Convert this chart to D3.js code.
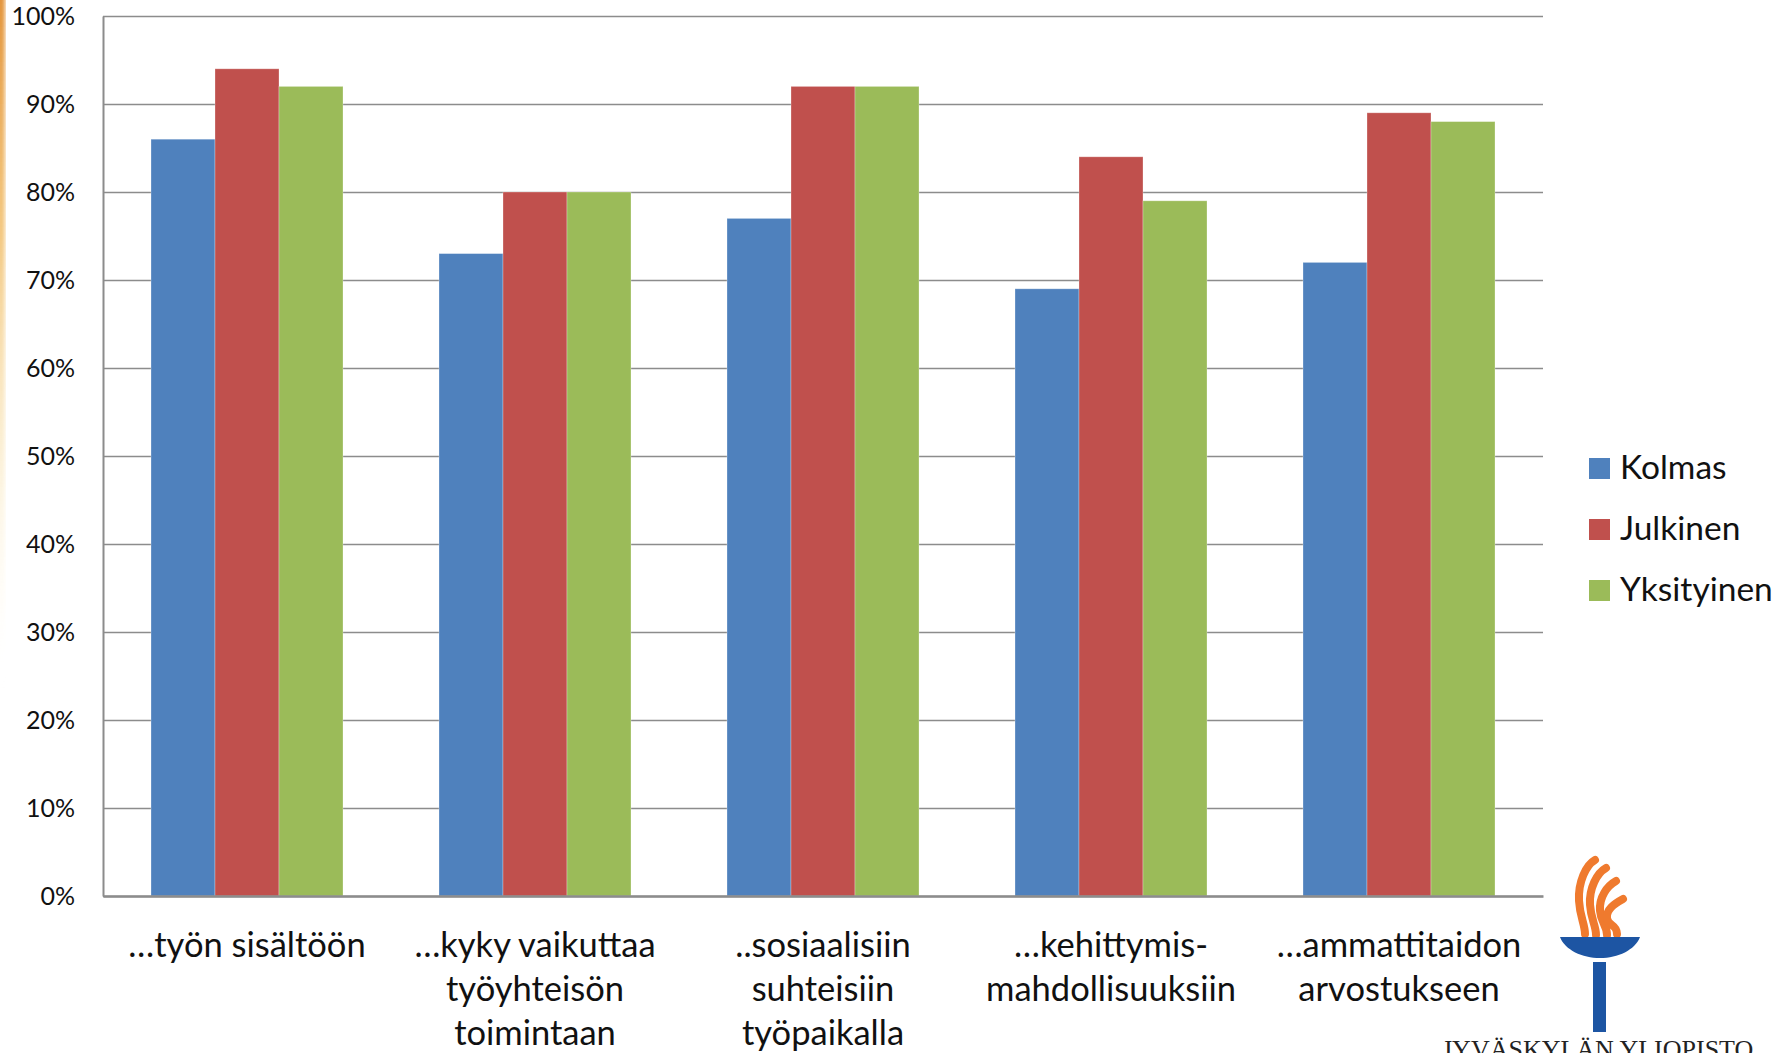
<!DOCTYPE html>
<html>
<head>
<meta charset="utf-8">
<script src="https://cdn.jsdelivr.net/npm/d3@7"></script>
<style>
  html, body { margin: 0; padding: 0; background: #ffffff; }
  svg { display: block; }
</style>
</head>
<body>
<script>
// Categories (each label split into its display lines)
const categories = ["tyon", "kyky", "sosiaalisiin", "kehittymis", "ammattitaidon"];
const categoryLines = [
  ["…työn sisältöön"],
  ["…kyky vaikuttaa", "työyhteisön", "toimintaan"],
  ["..sosiaalisiin", "suhteisiin", "työpaikalla"],
  ["…kehittymis-", "mahdollisuuksiin"],
  ["…ammattitaidon", "arvostukseen"]
];

// Series
const seriesNames = ["Kolmas", "Julkinen", "Yksityinen"];
const kolmas     = [0.86, 0.73, 0.77, 0.69, 0.72];
const julkinen   = [0.94, 0.80, 0.92, 0.84, 0.89];
const yksityinen = [0.92, 0.80, 0.92, 0.79, 0.88];
const seriesColors = ["#4f81bd", "#c0504d", "#9bbb59"];

// Y axis ticks
const yTicks = [0, 0.1, 0.2, 0.3, 0.4, 0.5, 0.6, 0.7, 0.8, 0.9, 1.0];

const W = 1779, H = 1053;
const plot = { left: 103, right: 1543, top: 16, bottom: 896 };
const FONT = "Lato, 'Open Sans', sans-serif";

const svg = d3.select("body").append("svg")
  .attr("width", W).attr("height", H)
  .attr("viewBox", `0 0 ${W} ${H}`);

// Warm slide edge on the far left
const defs = svg.append("defs");
const edgeGrad = defs.append("linearGradient")
  .attr("id", "edgeGrad").attr("x1", 0).attr("y1", 0).attr("x2", 0).attr("y2", 1);
edgeGrad.append("stop").attr("offset", "0%").attr("stop-color", "#e08a2a").attr("stop-opacity", 0.95);
edgeGrad.append("stop").attr("offset", "35%").attr("stop-color", "#eeb04a").attr("stop-opacity", 0.7);
edgeGrad.append("stop").attr("offset", "70%").attr("stop-color", "#f3cf7a").attr("stop-opacity", 0.25);
edgeGrad.append("stop").attr("offset", "100%").attr("stop-color", "#ffffff").attr("stop-opacity", 0);
defs.append("filter").attr("id", "edgeBlur")
  .append("feGaussianBlur").attr("stdDeviation", 2);
svg.append("rect")
  .attr("x", -4).attr("y", -10).attr("width", 9).attr("height", 700)
  .attr("fill", "url(#edgeGrad)").attr("filter", "url(#edgeBlur)");

// Scales
const x0 = d3.scaleBand().domain(categories).range([plot.left, plot.right]).padding(0);
const x1 = d3.scaleBand().domain(seriesNames).range([0, x0.bandwidth()])
  .paddingInner(0).paddingOuter(0.75);
const y = d3.scaleLinear().domain([0, 1]).range([plot.bottom, plot.top]);

// Gridlines
const grid = svg.append("g")
  .attr("transform", `translate(${plot.left},0)`)
  .call(d3.axisLeft(y).tickValues(yTicks).tickSize(-(plot.right - plot.left)).tickFormat(""));
grid.select(".domain").remove();
grid.selectAll(".tick line").attr("stroke", "#8c8c8c").attr("stroke-width", 1.6);

// Bars
const seriesData = [kolmas, julkinen, yksityinen];
const groups = svg.append("g").selectAll("g")
  .data(seriesNames)
  .join("g")
  .attr("fill", (d, i) => seriesColors[i]);
groups.selectAll("rect")
  .data((name, si) => categories.map((c, ci) => ({ c, name, v: seriesData[si][ci] })))
  .join("rect")
  .attr("x", d => x0(d.c) + x1(d.name))
  .attr("y", d => y(d.v))
  .attr("width", x1.bandwidth())
  .attr("height", d => y(0) - y(d.v))
  .attr("stroke", "rgba(255,255,255,0.35)")
  .attr("stroke-width", 0.8);

// Y axis with labels
const yAxis = svg.append("g")
  .attr("transform", `translate(${plot.left},0)`)
  .call(d3.axisLeft(y).tickValues(yTicks).tickSize(0).tickPadding(28)
    .tickFormat(d3.format(".0%")));
yAxis.select(".domain").attr("stroke", "#8c8c8c").attr("stroke-width", 2);
yAxis.selectAll(".tick text")
  .attr("font-family", FONT).attr("font-size", 25).attr("fill", "#111");

// X axis baseline
svg.append("g")
  .attr("transform", `translate(0,${plot.bottom})`)
  .call(d3.axisBottom(x0).tickSize(0).tickFormat(""))
  .select(".domain").attr("stroke", "#8c8c8c").attr("stroke-width", 2.4);

// Category labels
const labels = svg.append("g")
  .attr("font-family", FONT).attr("font-size", 34.5).attr("fill", "#111")
  .attr("text-anchor", "middle");
labels.selectAll("text")
  .data(categories)
  .join("text")
  .attr("x", d => x0(d) + x0.bandwidth() / 2)
  .attr("y", 957)
  .selectAll("tspan")
  .data((d, i) => categoryLines[i])
  .join("tspan")
  .attr("x", function () { return this.parentNode.getAttribute("x"); })
  .attr("dy", (d, i) => i === 0 ? 0 : 44)
  .text(d => d);

// Legend
const legend = svg.append("g").attr("font-family", FONT).attr("font-size", 33.5).attr("fill", "#111");
const legendItems = legend.selectAll("g")
  .data(seriesNames)
  .join("g")
  .attr("transform", (d, i) => `translate(1589,${458 + i * 61})`);
legendItems.append("rect")
  .attr("width", 21).attr("height", 21)
  .attr("fill", (d, i) => seriesColors[i]);
legendItems.append("text")
  .attr("x", 31).attr("y", 21)
  .text(d => d);

// University torch emblem and name
const logo = svg.append("g");
const flameTongues = [
  { tx: 1595, ty: 860, bx: 1585, by: 934 },
  { tx: 1606, ty: 868, bx: 1596, by: 935 },
  { tx: 1616, ty: 881, bx: 1607, by: 935 },
  { tx: 1623, ty: 899, bx: 1617, by: 934 }
];
logo.selectAll("path.flame")
  .data(flameTongues)
  .join("path")
  .attr("class", "flame")
  .attr("d", t => {
    const h = t.by - t.ty;
    return `M${t.tx},${t.ty} C${t.tx - 9},${t.ty + 5} ${t.tx - 17},${t.ty + 0.3 * h} ${t.tx - 16},${t.ty + 0.55 * h} `
         + `C${t.tx - 15},${t.ty + 0.78 * h} ${t.bx},${t.by - 10} ${t.bx},${t.by}`;
  })
  .attr("fill", "none")
  .attr("stroke", "#ef7a2e")
  .attr("stroke-width", 8)
  .attr("stroke-linecap", "round");
logo.append("path")
  .attr("d", "M1560,937 L1640,937 C1635,950 1618,958 1600,958 C1582,958 1565,950 1560,937 Z")
  .attr("fill", "#1d55a3");
logo.append("rect")
  .attr("x", 1593).attr("y", 962).attr("width", 13).attr("height", 70)
  .attr("fill", "#1d55a3");
logo.append("text")
  .attr("x", 1442).attr("y", 1058)
  .attr("font-family", "'Liberation Serif', 'DejaVu Serif', serif")
  .attr("font-size", 26).attr("fill", "#222")
  .text("JYVÄSKYLÄN YLIOPISTO");
</script>
</body>
</html>
